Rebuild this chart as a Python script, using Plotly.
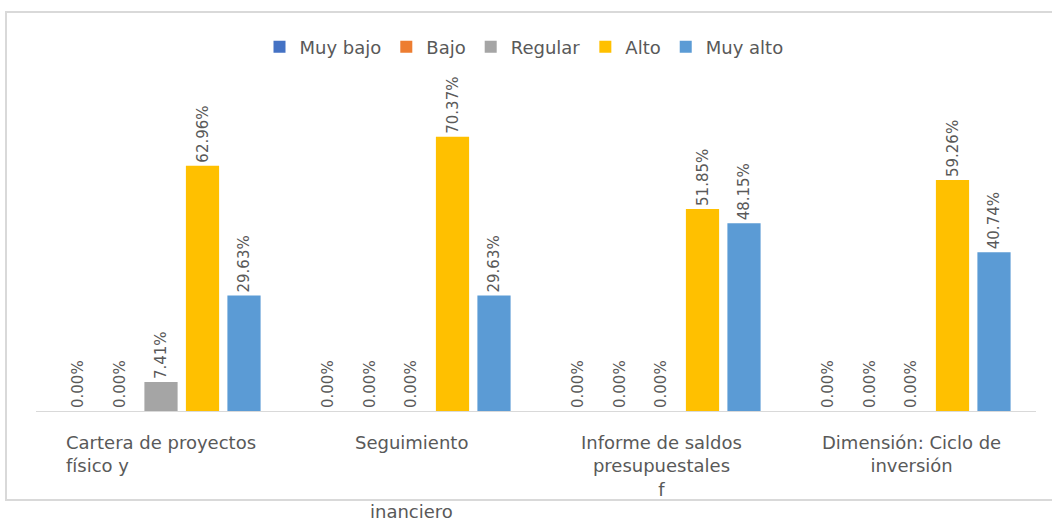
import plotly.graph_objects as go

# Data (percent of respondents by level)
categorias = ["Cartera de proyectos", "Seguimiento", "Informe de saldos", "Dimensión: Ciclo de"]
etiquetas_x = [
    "Cartera de proyectos<br>físico y",
    "Seguimiento",
    "Informe de saldos<br>presupuestales<br>f",
    "Dimensión: Ciclo de<br>inversión",
]
niveles = ["Muy bajo", "Bajo", "Regular", "Alto", "Muy alto"]
muy_bajo = [0.00, 0.00, 0.00, 0.00]
bajo = [0.00, 0.00, 0.00, 0.00]
regular = [7.41, 0.00, 0.00, 0.00]
alto = [62.96, 70.37, 51.85, 59.26]
muy_alto = [29.63, 29.63, 48.15, 40.74]

colores = ["#4472C4", "#ED7D31", "#A5A5A5", "#FFC000", "#5B9BD5"]
series = [muy_bajo, bajo, regular, alto, muy_alto]

FONT = "DejaVu Sans, sans-serif"
GRIS = "#595959"

fig = go.Figure()
for nombre, valores, color in zip(niveles, series, colores):
    fig.add_trace(go.Bar(
        x=categorias,
        y=valores,
        name=nombre,
        marker=dict(color=color, line=dict(width=0)),
        texttemplate="%{y:.2f}%",
        textposition="outside",
        textangle=-90,
        constraintext="none",
        textfont=dict(family=FONT, color=GRIS, size=15),
        cliponaxis=False,
    ))

# category labels as annotations (first one is left aligned in the original)
for i, (cat, txt) in enumerate(zip(categorias, etiquetas_x)):
    fig.add_annotation(
        x=cat, y=0, xref="x", yref="y", yanchor="top", yshift=-19,
        text=txt, showarrow=False, align="left" if i == 0 else "center",
        font=dict(family=FONT, size=18, color=GRIS),
    )
fig.add_annotation(
    x=categorias[1], y=-0.296, xref="x", yref="paper", yanchor="middle",
    text="inanciero", showarrow=False,
    font=dict(family=FONT, size=18, color=GRIS),
)

# chart border (top, left, bottom)
fig.add_shape(type="rect", xref="paper", yref="paper",
              x0=-0.030, x1=1.05, y0=-0.261, y1=1.170,
              line=dict(color="#D9D9D9", width=2), layer="below")

fig.update_layout(
    width=1052, height=522,
    margin=dict(l=36, r=16, t=70, b=111),
    paper_bgcolor="white", plot_bgcolor="white",
    barmode="group", bargap=0.17, bargroupgap=0.2,
    font=dict(family=FONT, size=16, color=GRIS),
    showlegend=True,
    legend=dict(orientation="h", x=0.488, xanchor="center", y=1.067, yanchor="middle",
                font=dict(family=FONT, size=18, color=GRIS), itemwidth=30,
                traceorder="normal"),
)
fig.update_xaxes(showticklabels=False, showline=True, linecolor="#D9D9D9", linewidth=1,
                 showgrid=False, zeroline=False, ticks="")
fig.update_yaxes(visible=False, range=[0, 87.5], showgrid=False, zeroline=False)

fig.write_html("out.html", config={"displayModeBar": False},
               post_script="document.body.style.margin='0';")
